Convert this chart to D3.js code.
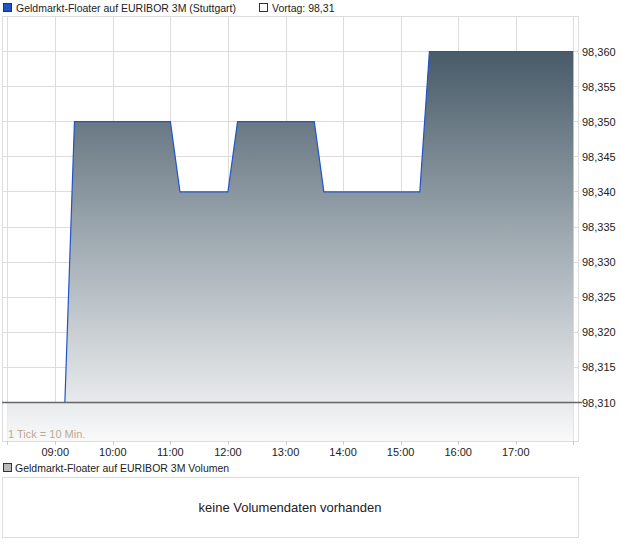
<!DOCTYPE html>
<html><head><meta charset="utf-8">
<script src="https://cdn.jsdelivr.net/npm/d3@7"></script>
<style>
html,body{margin:0;padding:0;background:#fff;}
svg text{font-family:"Liberation Sans",Arial,sans-serif;}
</style></head>
<body>
<script>
// ---- data ----
const times = ["08:10","09:10","09:20","11:00","11:10","12:00","12:10","13:30","13:40","15:20","15:30","18:00"];
const prices = [98.310,98.310,98.350,98.350,98.340,98.340,98.350,98.350,98.340,98.340,98.360,98.360];
const xTickLabels = ["09:00","10:00","11:00","12:00","13:00","14:00","15:00","16:00","17:00"];
const gridTimes = ["08:10","09:00","10:00","11:00","12:00","13:00","14:00","15:00","16:00","17:00","18:00"];
const yTicks = [98.310,98.315,98.320,98.325,98.330,98.335,98.340,98.345,98.350,98.355,98.360];
const prevClose = 98.31;
const seriesName = "Geldmarkt-Floater auf EURIBOR 3M (Stuttgart)";
const volumeName = "Geldmarkt-Floater auf EURIBOR 3M Volumen";
const noVolume = "keine Volumendaten vorhanden";
const tickNote = "1 Tick = 10 Min.";

const W = 620, H = 546;
const parse = d3.timeParse("%H:%M");
const svg = d3.select("body").append("svg").attr("width", W).attr("height", H);

const box = {l: 2, r: 578, t: 16, b: 441};
const x = d3.scaleTime().domain([parse("08:10"), parse("18:00")]).range([7.3, 573.3]);
const y = d3.scaleLinear().domain([98.310, 98.360]).range([402.5, 51.5]);

// plot box
svg.append("rect").attr("x", box.l + 0.5).attr("y", box.t + 0.5)
  .attr("width", box.r - box.l).attr("height", box.b - box.t)
  .attr("fill", "#fff").attr("stroke", "#dddddd");

// grid
svg.append("g").selectAll("line").data(gridTimes).join("line")
  .attr("x1", d => Math.round(x(parse(d))) + 0.5).attr("x2", d => Math.round(x(parse(d))) + 0.5)
  .attr("y1", box.t).attr("y2", box.b)
  .attr("stroke", "#dddddd");
svg.append("g").selectAll("line").data(yTicks).join("line")
  .attr("x1", box.l).attr("x2", box.r)
  .attr("y1", d => Math.floor(y(d)) + 0.5).attr("y2", d => Math.floor(y(d)) + 0.5)
  .attr("stroke", "#dddddd");

// gradient
const defs = svg.append("defs");
const grad = defs.append("linearGradient").attr("id", "g1")
  .attr("gradientUnits", "userSpaceOnUse")
  .attr("x1", 0).attr("x2", 0).attr("y1", y(98.360)).attr("y2", box.b);
grad.append("stop").attr("offset", 0).attr("stop-color", "#485b69");
grad.append("stop").attr("offset", 0.5).attr("stop-color", "#a3adb4");
grad.append("stop").attr("offset", 1).attr("stop-color", "#f9f9fa");

const pts = times.map((t, i) => [parse(t), prices[i]]);
svg.append("path").datum(pts)
  .attr("d", d3.area().x(d => x(d[0])).y0(box.b).y1(d => y(d[1])))
  .attr("fill", "url(#g1)");
svg.append("path").datum(pts)
  .attr("d", d3.line().x(d => x(d[0])).y(d => y(d[1])))
  .attr("fill", "none").attr("stroke", "#1f55c8").attr("stroke-width", 1.2);

// previous close line
svg.append("line").attr("x1", box.l).attr("x2", box.r + 4)
  .attr("y1", y(prevClose)).attr("y2", y(prevClose))
  .attr("stroke", "#666666").attr("stroke-width", 1.3);

// y axis labels
const fmt = v => d3.format(".3f")(v).replace(".", ",");
svg.append("g").selectAll("text").data(yTicks).join("text")
  .attr("x", 582).attr("y", d => y(d) + 4)
  .attr("font-size", 11).attr("fill", "#222").text(fmt);

// x ticks & labels
svg.append("g").selectAll("line").data(gridTimes).join("line")
  .attr("x1", d => Math.round(x(parse(d))) + 0.5).attr("x2", d => Math.round(x(parse(d))) + 0.5)
  .attr("y1", box.b).attr("y2", box.b + 4).attr("stroke", "#cccccc");
svg.append("g").selectAll("text").data(xTickLabels).join("text")
  .attr("x", d => x(parse(d))).attr("y", 456).attr("text-anchor", "middle")
  .attr("font-size", 11).attr("fill", "#222").text(d => d);

svg.append("text").attr("x", 8).attr("y", 438).attr("font-size", 11)
  .attr("fill", "#b9aa94").text(tickNote);

// legend
svg.append("rect").attr("x", 3.5).attr("y", 3.5).attr("width", 8).attr("height", 8)
  .attr("fill", "#1f55c8").attr("stroke", "#333");
svg.append("text").attr("x", 16).attr("y", 12).attr("font-size", 10.5).attr("fill", "#222").text(seriesName);
svg.append("rect").attr("x", 259.5).attr("y", 3.5).attr("width", 8).attr("height", 8)
  .attr("fill", "#fff").attr("stroke", "#333");
svg.append("text").attr("x", 272).attr("y", 12).attr("font-size", 10.5).attr("fill", "#222")
  .text("Vortag: " + String(prevClose).replace(".", ","));

// volume panel
svg.append("rect").attr("x", 3.5).attr("y", 463.5).attr("width", 8).attr("height", 8)
  .attr("fill", "#bbbbbb").attr("stroke", "#333");
svg.append("text").attr("x", 15).attr("y", 472).attr("font-size", 10.5).attr("fill", "#222").text(volumeName);
svg.append("rect").attr("x", box.l + 0.5).attr("y", 477.5).attr("width", box.r - box.l).attr("height", 60)
  .attr("fill", "#fff").attr("stroke", "#dddddd");
svg.append("text").attr("x", (box.l + box.r) / 2).attr("y", 512).attr("text-anchor", "middle")
  .attr("font-size", 13).attr("fill", "#222").text(noVolume);
</script>
</body></html>
